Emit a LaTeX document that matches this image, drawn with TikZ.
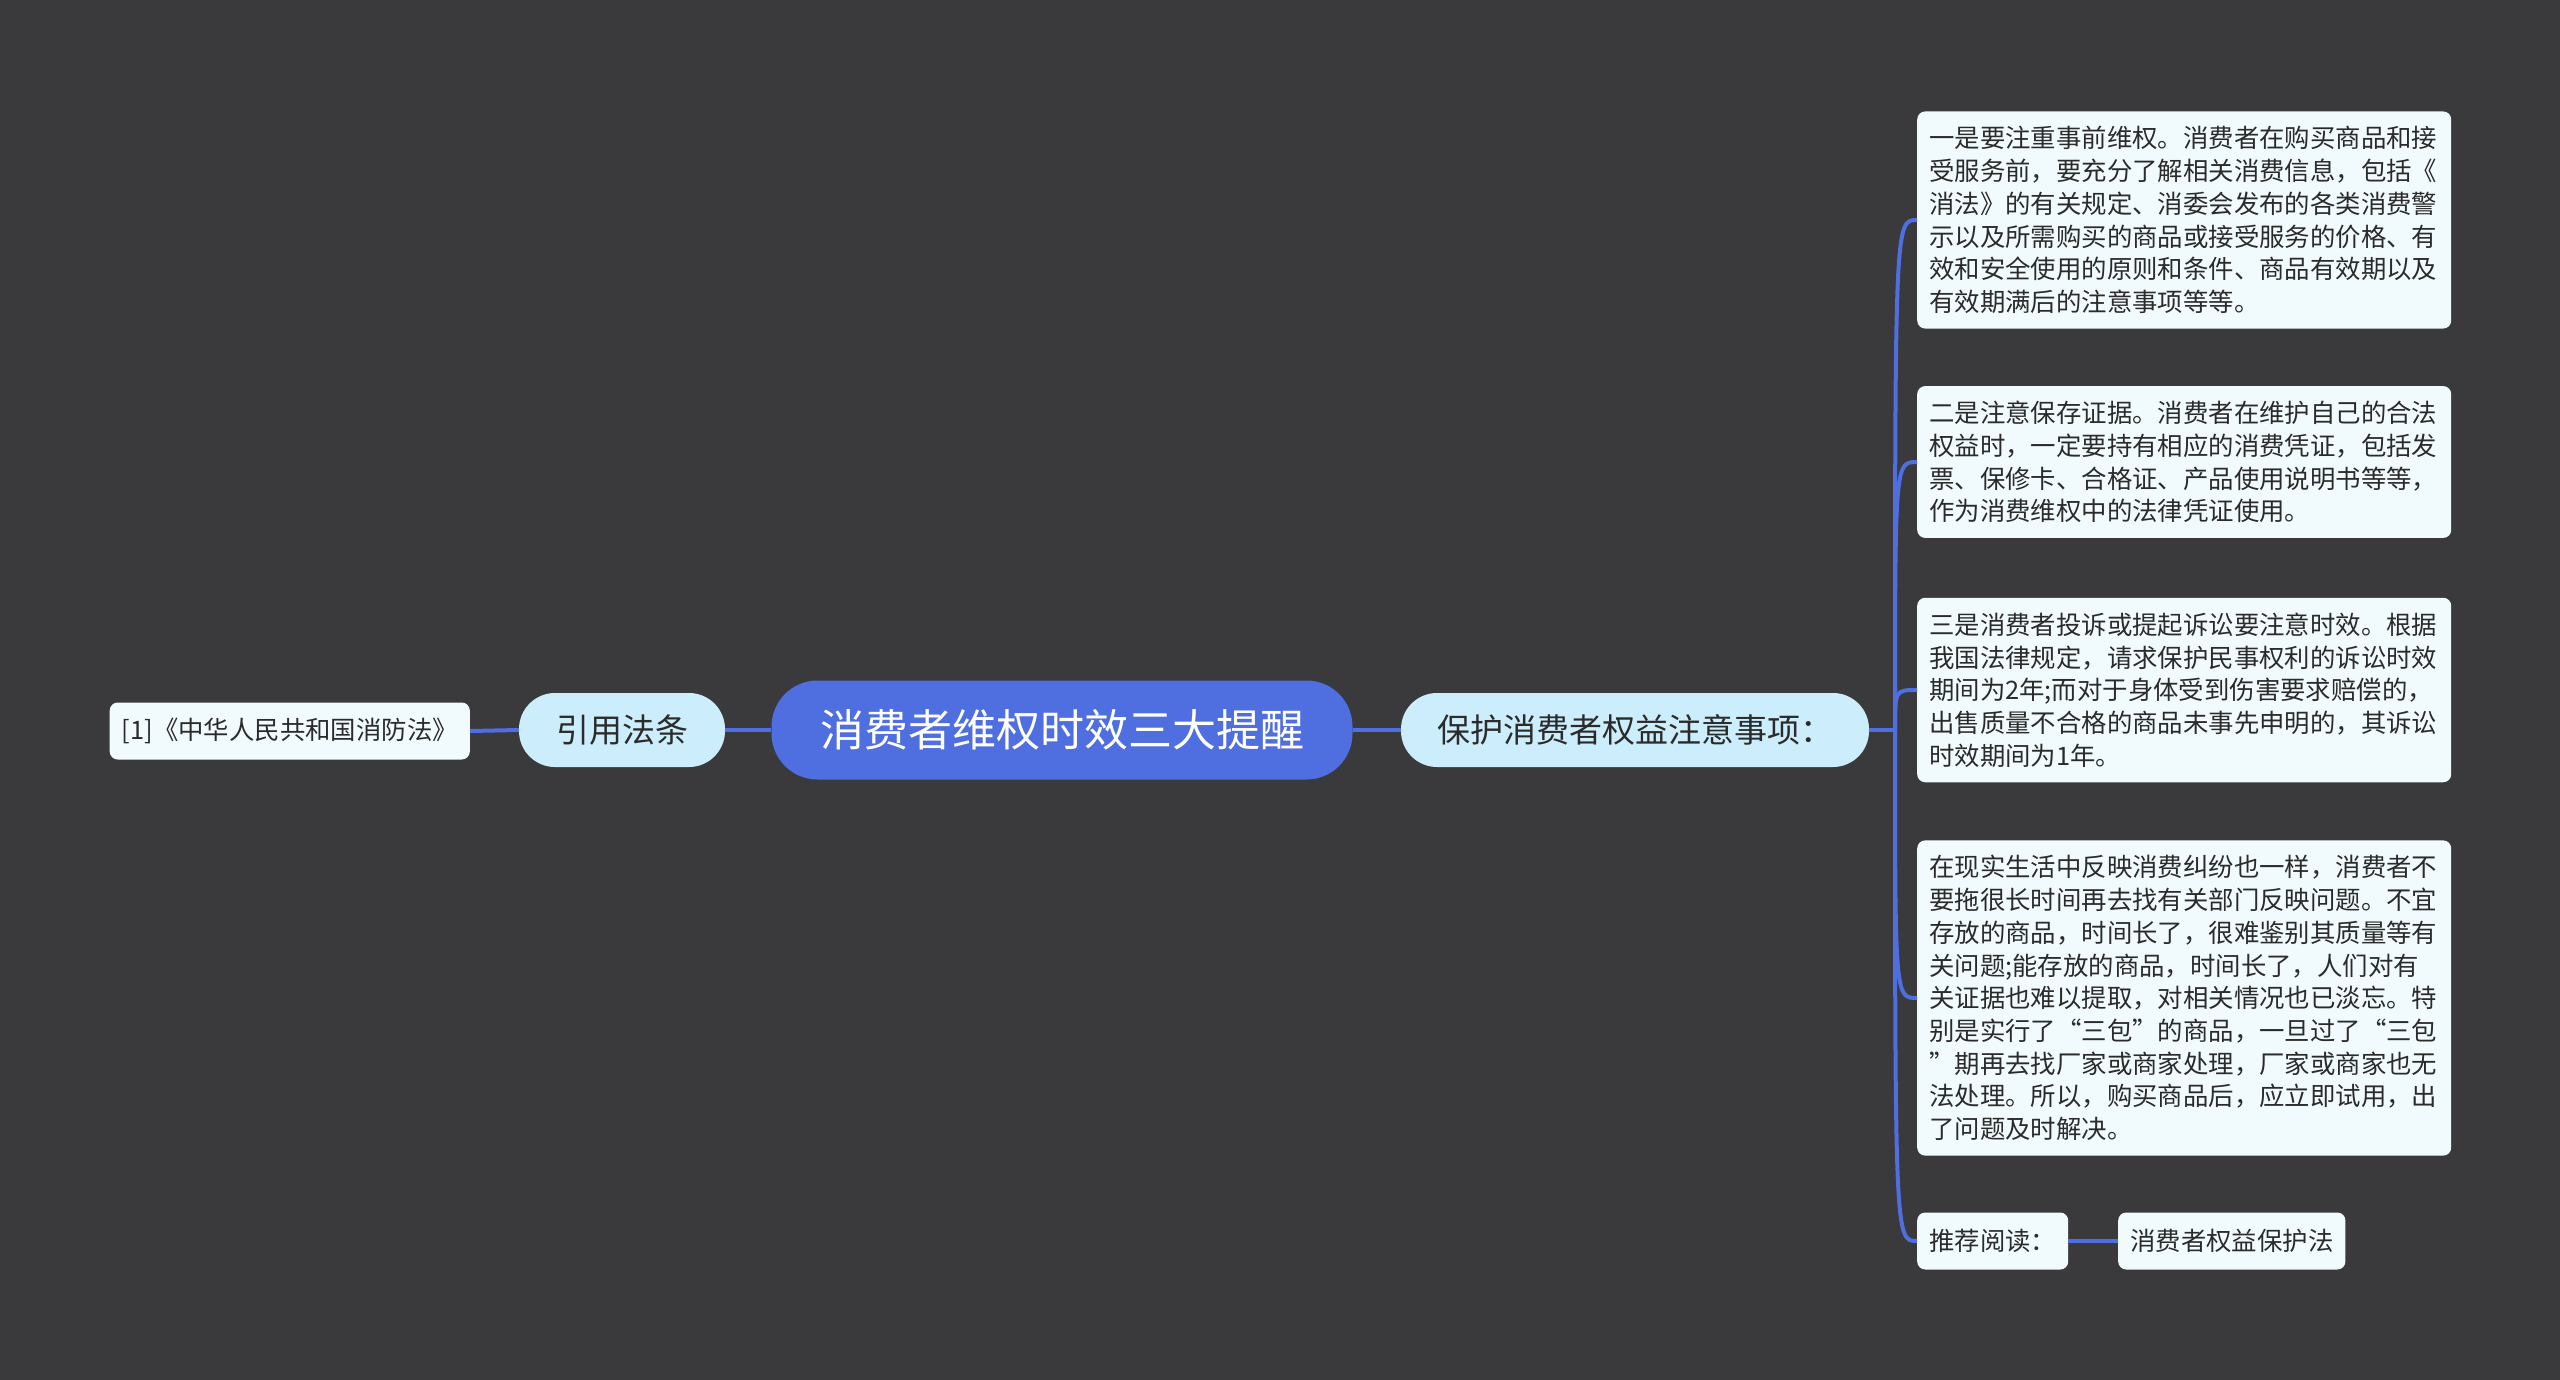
\documentclass[tikz,border=0pt]{standalone}
\usepackage{fontspec}
\setmainfont{Noto Sans CJK SC}
\definecolor{bgdark}{HTML}{3A393B}
\definecolor{rootblue}{HTML}{4F6EE0}
\definecolor{subblue}{HTML}{CCEEFC}
\definecolor{leafwhite}{HTML}{F1FBFD}
\definecolor{inkgray}{HTML}{2B2B2B}
\begin{document}
\begin{tikzpicture}[x=1pt,y=-1pt,
  link/.style={draw=rootblue,line width=4pt},
  topic/.style={fill=rootblue,text=white,rounded corners=46pt,minimum height=99pt,
    minimum width=581pt,font=\fontsize{44}{48}\selectfont},
  branch/.style={fill=subblue,text=inkgray,rounded corners=36pt,minimum height=74pt,
    font=\fontsize{33}{36}\selectfont},
  leaf/.style={fill=leafwhite,text=inkgray,rounded corners=8pt,inner xsep=12pt,
    inner ysep=15pt,font=\fontsize{25.4}{32.7}\selectfont},
  note/.style={leaf,align=left,text width=510pt},
  tag/.style={leaf,minimum height=57pt}]
\useasboundingbox (0,0) rectangle (2560,1380);
\fill[bgdark] (0,0) rectangle (2560,1380);

% centre and the two branches
\node[topic] (main) at (1062,730) {消费者维权时效三大提醒};
\node[branch,minimum width=206pt] (cite) at (622,730) {引用法条};
\node[branch,minimum width=468pt] (tips) at (1635,730) {保护消费者权益注意事项：};

% left side
\node[tag,anchor=east] (law) at (470,731) {[1]《中华人民共和国消防法》};

% right side
\node[note,anchor=west] (first) at (1917,220) {一是要注重事前维权。消费者在购买商品和接\\受服务前，要充分了解相关消费信息，包括《\\消法》的有关规定、消委会发布的各类消费警\\示以及所需购买的商品或接受服务的价格、有\\效和安全使用的原则和条件、商品有效期以及\\有效期满后的注意事项等等。};
\node[note,anchor=west] (second) at (1917,462) {二是注意保存证据。消费者在维护自己的合法\\权益时，一定要持有相应的消费凭证，包括发\\票、保修卡、合格证、产品使用说明书等等，\\作为消费维权中的法律凭证使用。};
\node[note,anchor=west] (third) at (1917,690) {三是消费者投诉或提起诉讼要注意时效。根据\\我国法律规定，请求保护民事权利的诉讼时效\\期间为2年;而对于身体受到伤害要求赔偿的，\\出售质量不合格的商品未事先申明的，其诉讼\\时效期间为1年。};
\node[note,anchor=west] (fourth) at (1917,998) {在现实生活中反映消费纠纷也一样，消费者不\\要拖很长时间再去找有关部门反映问题。不宜\\存放的商品，时间长了，很难鉴别其质量等有\\关问题;能存放的商品，时间长了，人们对有\\关证据也难以提取，对相关情况也已淡忘。特\\别是实行了“三包”的商品，一旦过了“三包\\”期再去找厂家或商家处理，厂家或商家也无\\法处理。所以，购买商品后，应立即试用，出\\了问题及时解决。};
\node[tag,anchor=west] (read) at (1917,1241) {推荐阅读：};
\node[tag,anchor=west] (act) at (2118,1241) {消费者权益保护法};

% connectors
\coordinate (fork) at (1895,730);
\draw[link] (main.west) -- (cite.east);
\draw[link] (cite.west) -- (law.east);
\draw[link] (main.east) -- (tips.west);
\draw[link] (tips.east) -- (fork);
\foreach \n in {first,second,third,fourth,read}
  \draw[link] (fork) .. controls (fork |- \n.west) .. (\n.west);
\draw[link] (read.east) -- (act.west);
\end{tikzpicture}
\end{document}
